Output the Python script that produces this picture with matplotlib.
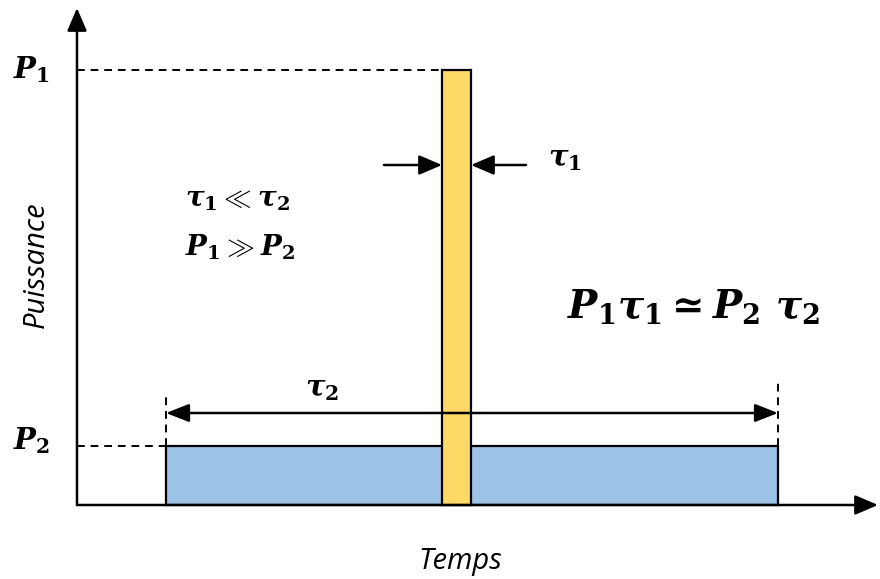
import matplotlib
matplotlib.use("Agg")
import matplotlib.pyplot as plt

plt.rcParams['mathtext.fontset'] = 'custom'
plt.rcParams['mathtext.it'] = 'DejaVu Serif:italic:bold'
plt.rcParams['mathtext.rm'] = 'DejaVu Serif:bold'
plt.rcParams['mathtext.bf'] = 'DejaVu Serif:bold'

# pulse data (arbitrary units: time and power)
t2_start, t2_end = 8.9, 70.1      # long, low pulse
t1_start, t1_end = 36.5, 39.4     # short, high pulse
P1 = 43.5
P2 = 5.9
t_axis_end = 80.1
p_axis_end = 49.7

blue = "#9DC3E6"
yellow = "#FFD966"

fig = plt.figure(figsize=(8.8, 5.79), dpi=100)
ax = fig.add_axes([0, 0, 1, 1])
ax.set_xlim(-7.7, 80.3)
ax.set_ylim(-7.4, 50.5)
ax.axis("off")

# bars
ax.bar([t2_start], [P2], width=t2_end - t2_start, align="edge",
       color=blue, edgecolor="black", linewidth=1.6, zorder=2)
ax.bar([t1_start], [P1], width=t1_end - t1_start, align="edge",
       color=yellow, edgecolor="black", linewidth=1.6, zorder=3)

# axes with arrows
akw = dict(arrowstyle="-|>,head_length=1.4,head_width=0.6", color="black",
           lw=1.8, shrinkA=0, shrinkB=0)
ax.annotate("", xy=(0, p_axis_end), xytext=(0, 0), arrowprops=akw, zorder=4)
ax.annotate("", xy=(t_axis_end, 0), xytext=(0, 0), arrowprops=akw, zorder=4)

# dashed guides
dash = (0, (4, 3))
ax.plot([0, t1_start], [P1, P1], ls=dash, color="black", lw=1.4)
ax.plot([0, t2_start + 2], [P2, P2], ls=dash, color="black", lw=1.4)
ax.plot([t2_start, t2_start], [P2, P2 + 5.1], ls=dash, color="black", lw=1.4)
ax.plot([t2_end, t2_end], [P2, P2 + 6.6], ls=dash, color="black", lw=1.4)

# tau2 double arrow
y_t2 = P2 + 3.3
dkw = dict(arrowstyle="<|-|>,head_length=1.4,head_width=0.55", color="black",
           lw=1.8, shrinkA=0, shrinkB=0)
ax.annotate("", xy=(t2_end, y_t2), xytext=(t2_start, y_t2), arrowprops=dkw)

# tau1 arrows
y_t1 = 34.0
ax.annotate("", xy=(t1_start, y_t1), xytext=(t1_start - 5.8, y_t1), arrowprops=akw)
ax.annotate("", xy=(t1_end, y_t1), xytext=(t1_end + 5.5, y_t1), arrowprops=akw)

# math labels
ax.text(-4.6, P1, r"$P_1$", fontsize=21, ha="center", va="center")
ax.text(-4.6, P2 + 0.5, r"$P_2$", fontsize=21, ha="center", va="center")
ax.text(48.8, 34.6, r"$\tau_1$", fontsize=21, ha="center", va="center")
ax.text(24.5, y_t2 + 2.4, r"$\tau_2$", fontsize=21, ha="center", va="center")
ax.text(10.8, 30.6, r"$\tau_1 \ll \tau_2$", fontsize=20, ha="left", va="center")
ax.text(10.8, 25.8, r"$P_1 \gg P_2$", fontsize=20, ha="left", va="center")
ax.text(61.6, 19.8, r"$P_1\tau_1 \simeq P_2\ \tau_2$", fontsize=28,
        ha="center", va="center")

# axis names
ax.text(-4.1, 24.0, "Puissance", fontsize=21, style="italic", family="Open Sans",
        rotation=90, ha="center", va="center")
ax.text(38.3, -5.7, "Temps", fontsize=21, style="italic", family="Open Sans",
        ha="center", va="center")

fig.savefig("out.png", dpi=100)
